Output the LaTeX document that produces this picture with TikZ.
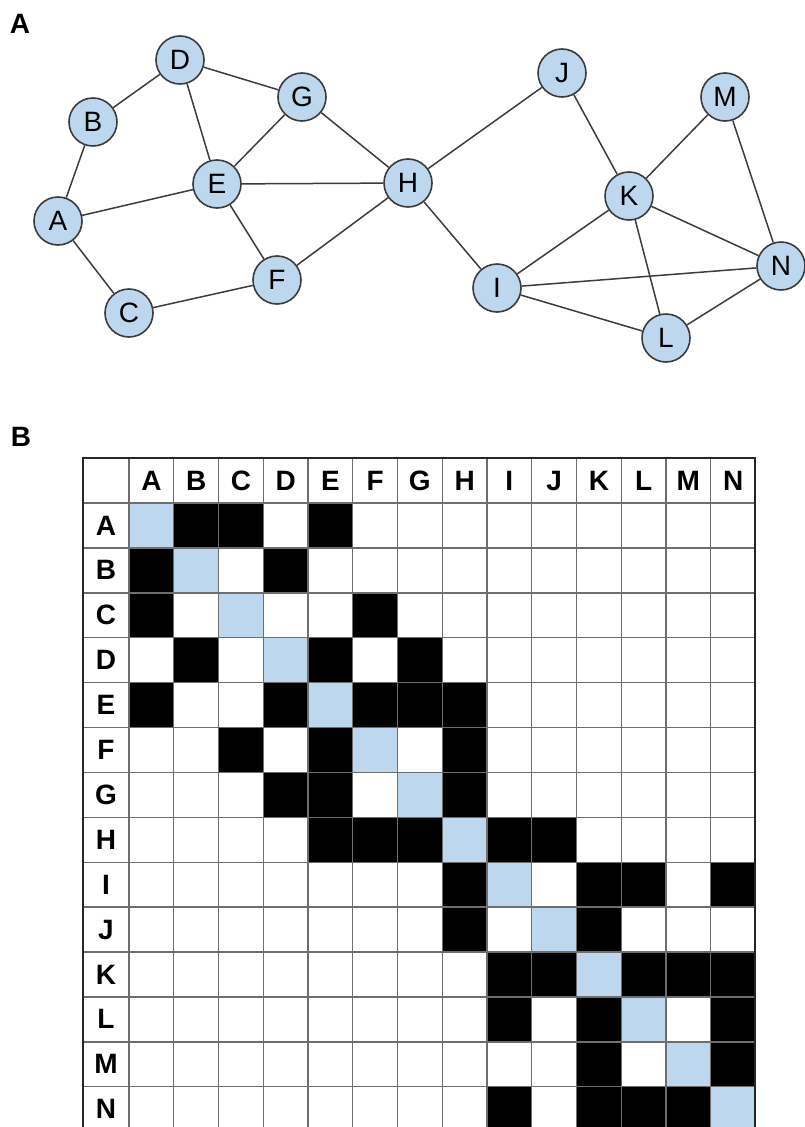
\documentclass[tikz,border=0pt]{standalone}
\usepackage{fontspec}
\setmainfont{Liberation Sans}
\definecolor{nodeblue}{RGB}{189,215,238}
\definecolor{edgegray}{RGB}{60,60,60}
\definecolor{gridgray}{RGB}{110,110,110}
\tikzset{
  vertex/.style={circle, draw=edgegray, line width=1.6pt, fill=nodeblue,
    minimum size=48pt, inner sep=0pt, font=\fontsize{28}{28}\selectfont},
  link/.style={draw=edgegray, line width=1.5pt},
  panel/.style={font=\bfseries\fontsize{28}{28}\selectfont, inner sep=0pt},
  head/.style={font=\bfseries\fontsize{28}{28}\selectfont, inner sep=0pt},
  gridline/.style={draw=gridgray, line width=1.4pt},
  frame/.style={draw=black!85, line width=2.2pt},
}
\begin{document}
\begin{tikzpicture}[x=1pt,y=-1pt]
\useasboundingbox (0,0) rectangle (805,1127);
\clip (0,0) rectangle (805,1127);

% ---------- panel A: the network ----------
\node[panel] (panelA) at (20,24) {A};
\node[vertex] (a) at (58,221)  {A};
\node[vertex] (b) at (93,122)  {B};
\node[vertex] (c) at (129,313) {C};
\node[vertex] (d) at (180,60)  {D};
\node[vertex] (e) at (217,184) {E};
\node[vertex] (f) at (277,280) {F};
\node[vertex] (g) at (302,97)  {G};
\node[vertex] (h) at (408,183) {H};
\node[vertex] (i) at (497,288) {I};
\node[vertex] (j) at (562,73)  {J};
\node[vertex] (k) at (629,196) {K};
\node[vertex] (l) at (666,338) {L};
\node[vertex] (m) at (725,97)  {M};
\node[vertex] (n) at (781,266) {N};
\foreach \u/\v in {a/b,a/c,a/e,b/d,c/f,d/e,d/g,e/f,e/g,e/h,f/h,g/h,
                   h/i,h/j,i/k,i/l,i/n,j/k,k/l,k/m,k/n,l/n,m/n}
  \draw[link] (\u) -- (\v);

% ---------- panel B: the adjacency matrix ----------
\node[panel] (panelB) at (21,437) {B};
\def\cw{44.75}
\def\rh{44.9}
% diagonal cells
\foreach \q in {0,...,13}
  \fill[nodeblue] (129+\cw*\q,503+\rh*\q) rectangle ++(\cw,\rh);
% adjacent pairs
\foreach \p/\q in {0/1,0/2,0/4,1/3,2/5,3/4,3/6,4/5,4/6,4/7,5/7,6/7,
                   7/8,7/9,8/10,8/11,8/13,9/10,10/11,10/12,10/13,11/13,12/13}{
  \fill[black] (129+\cw*\q,503+\rh*\p) rectangle ++(\cw,\rh);
  \fill[black] (129+\cw*\p,503+\rh*\q) rectangle ++(\cw,\rh);
}
% grid
\foreach \q in {0,...,13}{
  \draw[gridline] (129+\cw*\q,458) -- (129+\cw*\q,1160);
  \draw[gridline] (83,503+\rh*\q) -- (755,503+\rh*\q);
}
\draw[frame] (83,458) rectangle (755,1160);
% headings
\foreach \t [count=\q from 0] in {A,B,C,D,E,F,G,H,I,J,K,L,M,N}{
  \node[head] (col\t) at (129+\cw*\q+\cw/2,481) {\t};
  \node[head] (row\t) at (106,503+\rh*\q+\rh/2) {\t};
}
\end{tikzpicture}
\end{document}
